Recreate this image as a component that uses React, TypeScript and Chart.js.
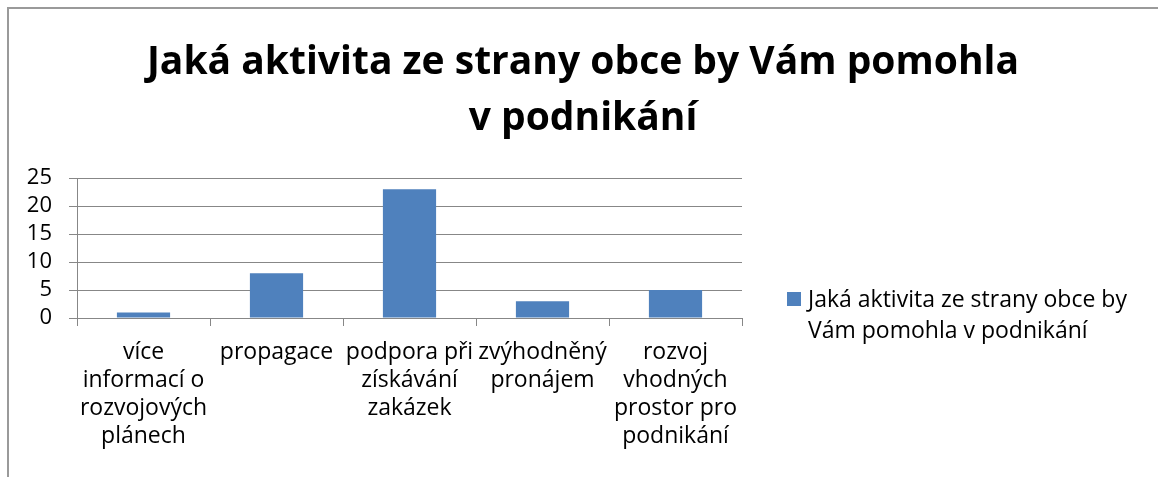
import React, { useEffect, useRef } from "react";
import { Chart, registerables } from "chart.js";

Chart.register(...registerables);

const titleLines = ["Jaká aktivita ze strany obce by Vám pomohla", "v podnikání"];
const categories: string[][] = [
  ["více", "informací o", "rozvojových", "plánech"],
  ["propagace"],
  ["podpora při", "získávání", "zakázek"],
  ["zvýhodněný", "pronájem"],
  ["rozvoj", "vhodných", "prostor pro", "podnikání"],
];
const seriesName = "Jaká aktivita ze strany obce by Vám pomohla v podnikání";
const legendLines = ["Jaká aktivita ze strany obce by", "Vám pomohla v podnikání"];
const values = [1, 8, 23, 3, 5];
const yMin = 0;
const yMax = 25;
const yStep = 5;

const FONT = "'Open Sans', 'Noto Sans', sans-serif";
const BAR_COLOR = "#4F81BD";
const GRID = "#878787";

export default function App() {
  const ref = useRef<HTMLCanvasElement | null>(null);

  useEffect(() => {
    if (!ref.current) return;
    const legendPlugin = {
      id: "sideLegend",
      afterDraw(chart: any) {
        const { ctx, chartArea } = chart;
        const x = chartArea.right + 45;
        const y = 299;
        ctx.save();
        ctx.fillStyle = BAR_COLOR;
        ctx.fillRect(x, y - 7, 14, 14);
        ctx.fillStyle = "#000";
        ctx.font = `23px ${FONT}`;
        ctx.textBaseline = "middle";
        ctx.textAlign = "left";
        legendLines.forEach((l, i) => ctx.fillText(l, x + 21, y + 1 + i * 31));
        ctx.restore();
      },
    };
    const chart = new Chart(ref.current, {
      type: "bar",
      data: {
        labels: categories,
        datasets: [
          {
            label: seriesName,
            data: values,
            backgroundColor: BAR_COLOR,
            borderWidth: 0,
            barPercentage: 0.4,
            categoryPercentage: 1,
          },
        ],
      },
      options: {
        responsive: false,
        animation: false,
        layout: { padding: { left: 8, right: 0, top: 0, bottom: 0 } },
        plugins: {
          legend: { display: false },
          tooltip: { enabled: false },
          title: {
            display: true,
            text: titleLines,
            color: "#000",
            font: { family: FONT, size: 39, weight: "bold", lineHeight: 56 / 39 },
            padding: { top: 35, bottom: 31 },
          },
        },
        scales: {
          x: {
            offset: true,
            grid: {
              offset: true,
              drawOnChartArea: false,
              drawTicks: true,
              tickLength: 8,
              color: GRID,
            },
            border: { display: true, color: GRID },
            ticks: {
              color: "#000",
              font: { family: FONT, size: 23, lineHeight: 28 / 23 },
              padding: 12,
              maxRotation: 0,
              autoSkip: false,
            },
            afterFit(scale: any) {
              scale.height = 477 - 318;
            },
          },
          y: {
            min: yMin,
            max: yMax,
            ticks: {
              stepSize: yStep,
              autoSkip: false,
              color: "#000",
              font: { family: FONT, size: 22, lineHeight: 1 },
              padding: 17,
            },
            grid: { color: GRID, tickLength: 8 },
            border: { display: true, color: GRID },
            afterFit(scale: any) {
              scale.width = 69;
            },
          },
          y2: {
            position: "right",
            display: true,
            grid: { display: false, drawTicks: false },
            border: { display: false },
            ticks: { display: false },
            afterFit(scale: any) {
              scale.width = 1158 - 742;
            },
          },
        },
      },
      plugins: [legendPlugin],
    });
    return () => chart.destroy();
  }, []);

  return (
    <div style={{ position: "fixed", left: 0, top: 0, width: 1158, height: 477, background: "#fff", overflow: "hidden" }}>
      <div
        style={{
          position: "absolute",
          left: 7,
          top: 7,
          width: 1300,
          height: 600,
          borderLeft: "2px solid #9a9a9a",
          borderTop: "2px solid #9a9a9a",
        }}
      />
      <canvas ref={ref} width={1158} height={477} style={{ position: "absolute", left: 0, top: 0 }} />
    </div>
  );
}
